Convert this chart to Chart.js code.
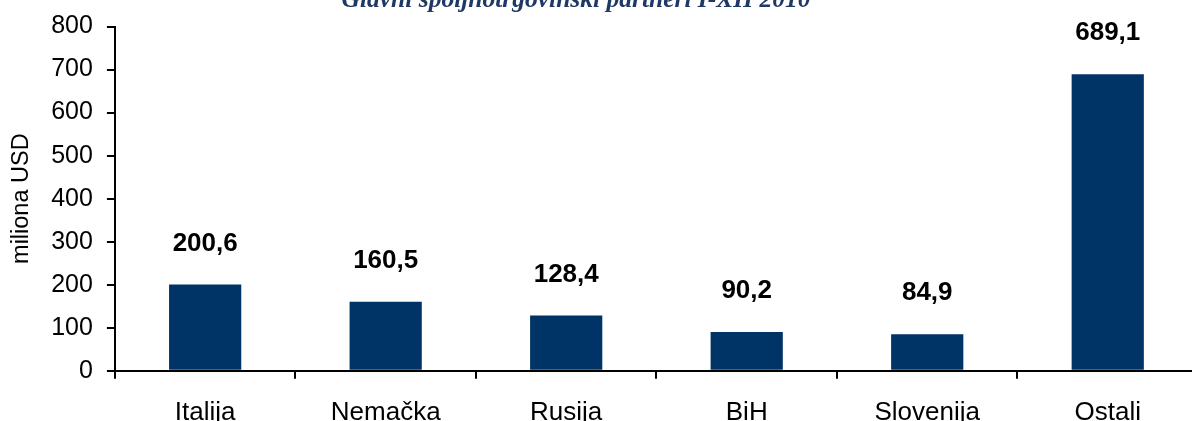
<!DOCTYPE html>
<html>
<head>
<meta charset="utf-8">
<script src="https://cdn.jsdelivr.net/npm/chart.js@4/dist/chart.umd.min.js"></script>
<style>
    html, body { margin: 0; padding: 0; background: #fff; overflow: hidden; }
    #wrap { width: 1200px; height: 421px; position: relative; }
</style>
</head>
<body>
<div id="wrap"><canvas id="tradeChart"></canvas></div>
<script>
// Podaci
const partneri = ['Italija', 'Nemačka', 'Rusija', 'BiH', 'Slovenija', 'Ostali'];
const vrijednosti = [200.6, 160.5, 128.4, 90.2, 84.9, 689.1];
const naslov = 'Glavni spoljnotrgovinski partneri I-XII 2010';
const yNaslov = 'miliona USD';

// Naslov, odsječen na vrhu kao u originalu
const naslovPlugin = {
    id: 'naslovPlugin',
    afterDraw(chart) {
        const ctx = chart.ctx;
        ctx.save();
        ctx.font = "italic bold 25.5px 'Liberation Serif', 'DejaVu Serif', serif";
        ctx.fillStyle = '#1f3864';
        ctx.textAlign = 'center';
        ctx.textBaseline = 'alphabetic';
        ctx.fillText(naslov, 576, 7);
        ctx.restore();
    }
};

// Vrijednosti iznad stubaca
const oznakePlugin = {
    id: 'oznakePlugin',
    afterDatasetsDraw(chart) {
        const ctx = chart.ctx;
        const meta = chart.getDatasetMeta(0);
        ctx.save();
        ctx.font = "bold 26px 'Liberation Sans', Arial, sans-serif";
        ctx.fillStyle = '#000';
        ctx.textAlign = 'center';
        ctx.textBaseline = 'middle';
        meta.data.forEach(function (bar, i) {
            const txt = vrijednosti[i].toFixed(1).replace('.', ',');
            ctx.fillText(txt, bar.x, bar.y - 41);
        });
        ctx.restore();
    }
};

const config = {
    type: 'bar',
    data: {
        labels: partneri,
        datasets: [{
            data: vrijednosti,
            backgroundColor: '#003366',
            barPercentage: 0.4,
            categoryPercentage: 1.0
        }]
    },
    options: {
        responsive: true,
        maintainAspectRatio: false,
        animation: false,
        layout: {
            padding: { top: 0, right: 2, bottom: -25, left: 3 }
        },
        plugins: {
            legend: { display: false },
            tooltip: { enabled: false }
        },
        scales: {
            y: {
                min: 0,
                max: 800,
                border: { color: '#000', width: 2 },
                grid: {
                    drawOnChartArea: false,
                    color: '#000',
                    lineWidth: 2,
                    tickLength: 8
                },
                ticks: {
                    stepSize: 100,
                    color: '#000',
                    padding: 14,
                    font: { size: 25, lineHeight: 1.0, family: "'Liberation Sans', Arial, sans-serif" }
                },
                title: {
                    display: true,
                    text: yNaslov,
                    color: '#000',
                    padding: { top: 4, bottom: 2 },
                    font: { size: 23.5, family: "'Liberation Sans', Arial, sans-serif" }
                }
            },
            x: {
                border: { color: '#000', width: 2 },
                grid: {
                    drawOnChartArea: false,
                    color: '#000',
                    lineWidth: 2,
                    tickLength: 8,
                    offset: true
                },
                ticks: {
                    color: '#000',
                    padding: 18,
                    font: { size: 26, family: "'Liberation Sans', Arial, sans-serif" }
                }
            }
        }
    },
    plugins: [naslovPlugin, oznakePlugin]
};

const tradeChart = new Chart(document.getElementById('tradeChart'), config);
</script>
</body>
</html>
